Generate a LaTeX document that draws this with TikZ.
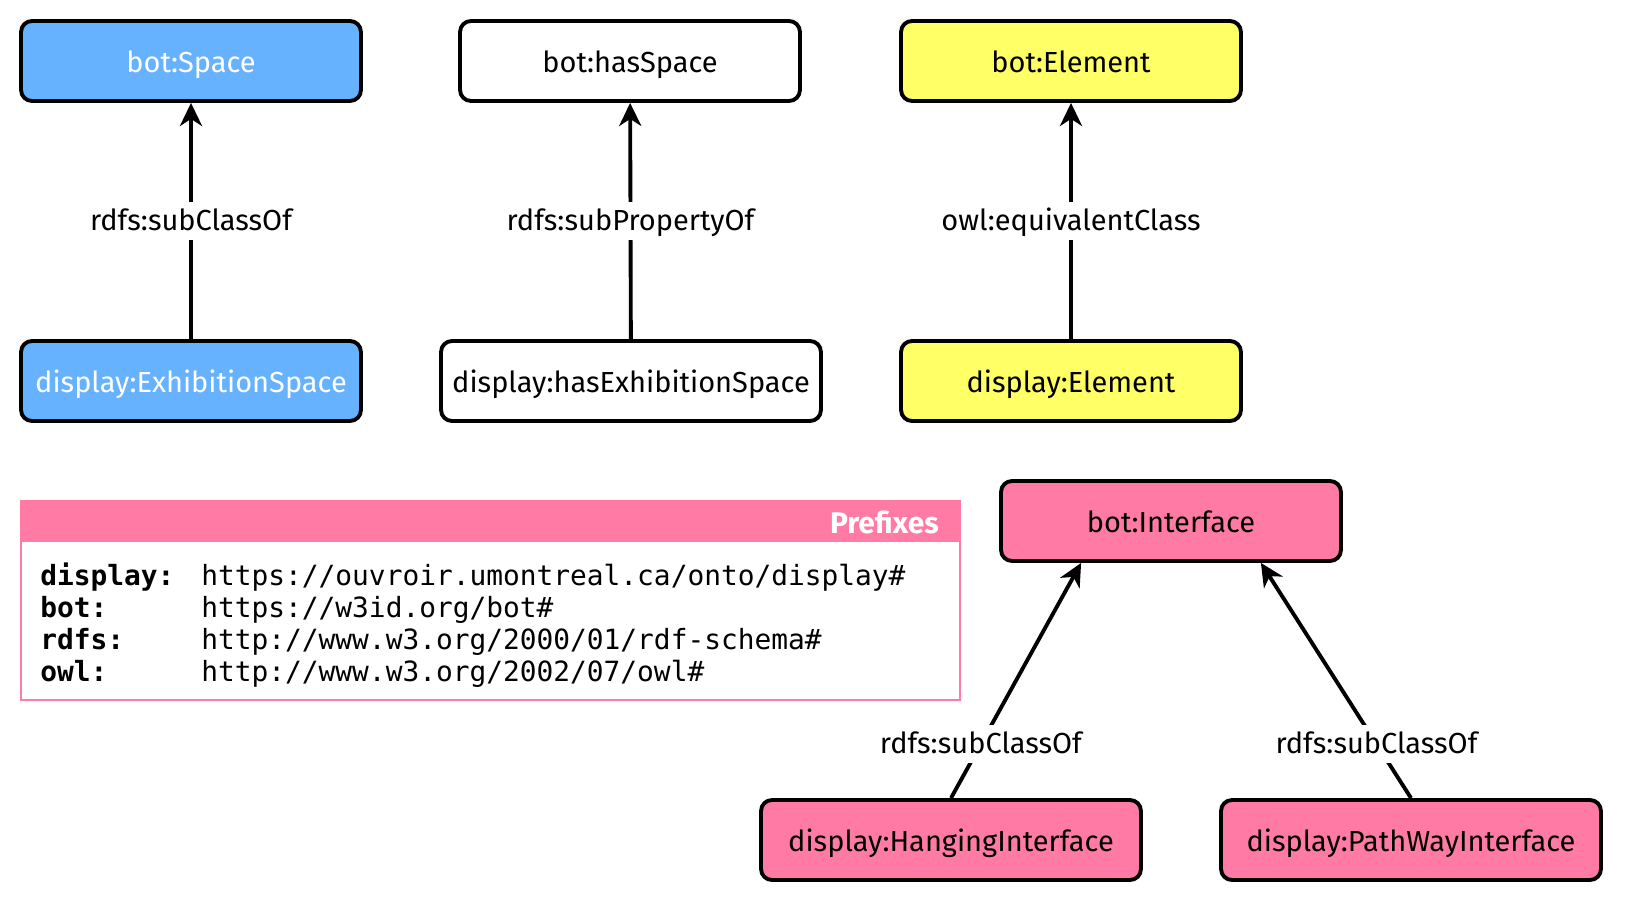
\documentclass[tikz,border=0pt]{standalone}
\usepackage{fontspec}
\setmainfont{Fira Sans}
\setmonofont{DejaVu Sans Mono}
\usetikzlibrary{arrows.meta}
\definecolor{spaceblue}{HTML}{66B2FF}
\definecolor{elemyellow}{HTML}{FFFF66}
\definecolor{ifacepink}{HTML}{FF7BA6}
\tikzstyle{every node}=[font=\fontsize{16.5}{20}\selectfont]
\tikzstyle{term}=[draw, rounded corners=0.22cm, line width=2.2pt, minimum width=6.8cm, minimum height=1.6cm, text height=13.5pt, text depth=0pt]
\tikzstyle{lbl}=[fill=white, inner sep=3pt, text height=13.5pt, text depth=2.5pt]
\tikzstyle{link}=[line width=2.2pt, -{Stealth[length=0.46cm, width=0.44cm, inset=0.14cm]}]
\tikzstyle{pfx}=[anchor=base west, inner sep=0pt, font=\fontsize{15.85}{18}\ttfamily]

\begin{document}
\begin{tikzpicture}[x=0.02cm, y=-0.02cm]
\useasboundingbox (0,0) rectangle (1630,915);
% Spaces
    \node[term, fill=spaceblue, text=white] (space) at (191,61) {bot:Space};
    \node[term, fill=spaceblue, text=white] (exhibitionSpace) at (191,381) {display:ExhibitionSpace};
    \draw[link] (exhibitionSpace) -- (space) node[midway, lbl] {rdfs:subClassOf};
% Properties
    \node[term, fill=white] (hasSpace) at (630,61) {bot:hasSpace};
    \node[term, fill=white, minimum width=7.6cm] (hasExhibitionSpace) at (631,381) {display:hasExhibitionSpace};
    \draw[link] (hasExhibitionSpace) -- (hasSpace) node[midway, lbl] {rdfs:subPropertyOf};
% Elements
    \node[term, fill=elemyellow] (botElement) at (1071,61) {bot:Element};
    \node[term, fill=elemyellow] (displayElement) at (1071,381) {display:Element};
    \draw[link] (displayElement) -- (botElement) node[midway, lbl] {owl:equivalentClass};
% Interfaces
    \node[term, fill=ifacepink] (botInterface) at (1171,521) {bot:Interface};
    \node[term, fill=ifacepink, minimum width=7.6cm] (hangingInterface) at (951,840) {display:HangingInterface};
    \node[term, fill=ifacepink, minimum width=7.6cm] (pathwayInterface) at (1411,840) {display:PathWayInterface};
    \draw[link] (hangingInterface.north) -- (botInterface.205) node[pos=0.23, lbl] {rdfs:subClassOf};
    \draw[link] (pathwayInterface.north) -- (botInterface.335) node[pos=0.23, lbl] {rdfs:subClassOf};
% Prefixes
    \draw[ifacepink, line width=1.1pt] (21,501) rectangle (960,700);
    \fill[ifacepink] (21,501) rectangle (960,542);
    \node[anchor=east, inner sep=0pt, text=white, font=\fontsize{17}{20}\selectfont\bfseries] (prefixTitle) at (939,522) {Prefixes};
    \node[pfx] (keyDisplay) at (40,585) {\bfseries display:};
    \node[pfx] (keyBot) at (40,617) {\bfseries bot:};
    \node[pfx] (keyRdfs) at (40,649) {\bfseries rdfs:};
    \node[pfx] (keyOwl) at (40,681) {\bfseries owl:};
    \node[pfx] (uriDisplay) at (201,585) {https://ouvroir.umontreal.ca/onto/display\#};
    \node[pfx] (uriBot) at (201,617) {https://w3id.org/bot\#};
    \node[pfx] (uriRdfs) at (201,649) {http://www.w3.org/2000/01/rdf-schema\#};
    \node[pfx] (uriOwl) at (201,681) {http://www.w3.org/2002/07/owl\#};
\end{tikzpicture}
\end{document}
